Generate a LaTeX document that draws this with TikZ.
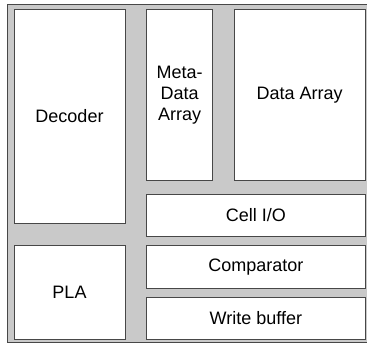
\documentclass[tikz,border=0pt]{standalone}
\usepackage{fontspec}
\setmainfont{Liberation Sans}
\begin{document}
\begin{tikzpicture}[x=1pt, y=-1pt,
  blockbox/.style={draw=black!72, line width=0.9pt, fill=white,
    inner sep=0pt, outer sep=0pt, align=center,
    font=\fontsize{18}{21}\selectfont},
  frame/.style={draw=black!72, line width=0.9pt, fill=black!21}]
  \useasboundingbox (0,0) rectangle (367,345);
  % chip outline
  \path[frame] (7.5,4.5) rectangle (372,342.5);
  % left column
  \node[blockbox, minimum width=111pt, minimum height=214.7pt] (dec) at (69.5,116.35) {Decoder};
  \node[blockbox, minimum width=111pt, minimum height=93.3pt] (pla) at (69.5,292.35) {PLA};
  % arrays
  \node[blockbox, minimum width=66pt, minimum height=171.7pt] (meta) at (179.7,94.85) {Meta-\\Data\\Array};
  \node[blockbox, minimum width=130.7pt, minimum height=171.7pt] (data) at (299.65,94.85) {Data Array};
  % peripheral circuits
  \node[blockbox, minimum width=218.3pt, minimum height=41.7pt] (cellio) at (255.85,215.15) {Cell I/O};
  \node[blockbox, minimum width=218.3pt, minimum height=42.6pt] (comp) at (255.85,267) {Comparator};
  \node[blockbox, minimum width=218.3pt, minimum height=41.7pt] (wbuf) at (255.85,318.15) {Write buffer};
\end{tikzpicture}
\end{document}
